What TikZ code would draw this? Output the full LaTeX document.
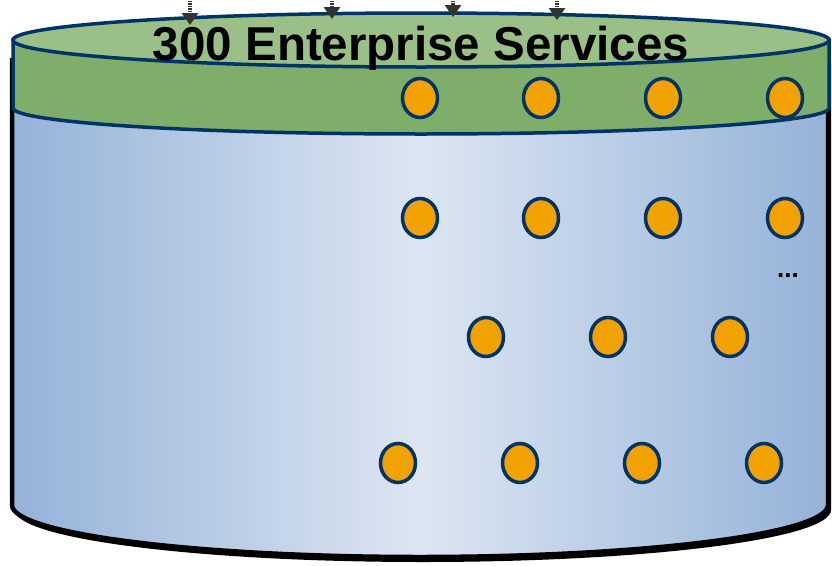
\documentclass[tikz,border=0pt]{standalone}
\usepackage{fontspec}
\setmainfont{Liberation Sans}
\usetikzlibrary{shapes.geometric,arrows.meta}
\definecolor{navy}{HTML}{003366}
\definecolor{greentop}{HTML}{9ABF87}
\definecolor{greenside}{HTML}{7FAD6A}
\definecolor{blueedge}{HTML}{95B2D8}
\definecolor{bluemid}{HTML}{DCE6F2}
\definecolor{orangefill}{HTML}{F1A100}
\definecolor{arrowgray}{HTML}{333333}
\newcommand\cylbodypath{(12,58) -- (12,505) arc[start angle=180,end angle=360,x radius=408pt,y radius=52pt] -- (828,58) -- cycle}
\tikzset{
  dotnode/.style={ellipse, draw=navy, line width=3.5pt, fill=orangefill, minimum width=35pt, minimum height=39pt, inner sep=0pt},
  inarrow/.style={draw=arrowgray, line width=4pt, dash pattern=on 1.5pt off 1pt, -{Triangle[length=12pt,width=16pt,fill=arrowgray]}}
}
\begin{document}
\begin{tikzpicture}[x=1pt,y=-1pt]
\useasboundingbox (0,0) rectangle (832,565);
% cylinder body with shadow
\fill[black, xshift=3pt, yshift=-5pt] \cylbodypath;
\shade[left color=blueedge, right color=blueedge, middle color=bluemid] \cylbodypath;
\draw[black, line width=4.5pt] (12,58) -- (12,505) arc[start angle=180,end angle=360,x radius=408pt,y radius=52pt] -- (828,58);
% green band
\filldraw[fill=greenside, draw=navy, line width=3.5pt] (13,40) -- (13,108) arc[start angle=180,end angle=360,x radius=408pt,y radius=26pt] -- (829,40) -- cycle;
\filldraw[fill=greentop, draw=navy, line width=3.5pt] (421,40) ellipse[x radius=408pt, y radius=27pt];
% services
\node[dotnode] (a1) at (420,98) {};
\node[dotnode] (a2) at (541,98) {};
\node[dotnode] (a3) at (663,98) {};
\node[dotnode] (a4) at (785,98) {};
\node[dotnode] (b1) at (420,218) {};
\node[dotnode] (b2) at (541,218) {};
\node[dotnode] (b3) at (663,218) {};
\node[dotnode] (b4) at (785,218) {};
\node[dotnode] (c1) at (486,337) {};
\node[dotnode] (c2) at (608,337) {};
\node[dotnode] (c3) at (730,337) {};
\node[dotnode] (d1) at (398,463) {};
\node[dotnode] (d2) at (520,463) {};
\node[dotnode] (d3) at (642,463) {};
\node[dotnode] (d4) at (764,463) {};
\node[font=\fontsize{26}{28}\selectfont\bfseries, inner sep=0pt, anchor=base] (more) at (788,277) {...};
% incoming arrows
\coordinate (s1) at (190,-2); \coordinate (t1) at (190,25);
\coordinate (s2) at (332,-2); \coordinate (t2) at (332,19);
\coordinate (s3) at (453,-2); \coordinate (t3) at (453,17);
\coordinate (s4) at (557,-2); \coordinate (t4) at (557,20);
\draw[inarrow] (s1) -- (t1);
\draw[inarrow] (s2) -- (t2);
\draw[inarrow] (s3) -- (t3);
\draw[inarrow] (s4) -- (t4);
% title
\node[font=\fontsize{47.5}{50}\selectfont\bfseries, anchor=base, inner sep=0pt] (title) at (421,60) {300 Enterprise Services};
\end{tikzpicture}
\end{document}
